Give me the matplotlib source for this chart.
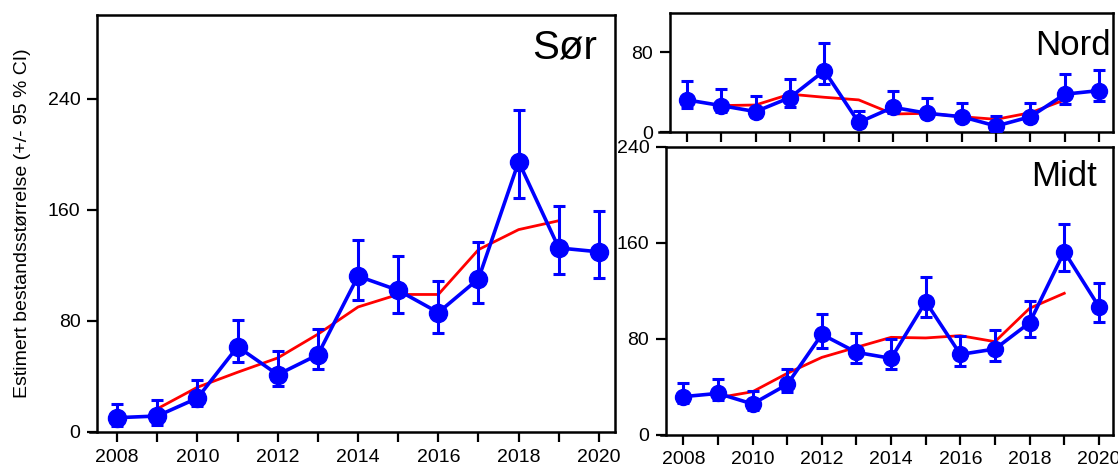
import matplotlib
matplotlib.use("Agg")
import matplotlib.pyplot as plt

plt.rcParams['font.family'] = ['Liberation Sans', 'DejaVu Sans']

years = list(range(2008, 2021))
trend_years = list(range(2009, 2020))

# Sør
sor_est = [10.3, 11.5, 24.4, 61.4, 41.3, 55.6, 112.2, 102.0, 86.0, 110.3, 194.6, 132.5, 129.7]
sor_lo = [4.0, 5.0, 18.4, 50.1, 33.0, 45.4, 95.0, 85.5, 71.6, 93.1, 168.4, 113.9, 111.0]
sor_hi = [20.3, 22.7, 37.5, 80.5, 58.0, 74.5, 138.5, 126.6, 108.7, 136.8, 232.0, 162.9, 158.8]
sor_trend = [16.7, 32.2, 43.0, 53.3, 70.4, 90.0, 99.0, 99.0, 131.3, 145.7, 152.1]

# Nord
nord_est = [32.5, 26.8, 20.8, 34.8, 61.6, 10.0, 25.1, 19.1, 15.7, 6.4, 15.7, 38.2, 41.8]
nord_lo = [24.1, 20.0, 15.7, 25.8, 48.2, 5.7, 19.1, 14.1, 11.4, 2.3, 10.7, 28.4, 31.8]
nord_hi = [50.9, 43.5, 36.5, 53.2, 89.4, 21.8, 41.5, 34.1, 29.1, 16.7, 29.1, 58.2, 62.6]
nord_trend = [26.8, 27.4, 38.2, 35.1, 32.5, 18.4, 19.1, 15.7, 13.1, 19.7, 32.5]

# Midt
midt_est = [31.7, 34.4, 25.6, 41.9, 83.6, 68.6, 63.6, 110.8, 66.9, 71.4, 93.3, 152.5, 106.7]
midt_lo = [26.1, 28.9, 20.6, 35.3, 71.9, 59.4, 54.7, 97.8, 57.5, 61.7, 81.7, 136.4, 94.2]
midt_hi = [43.3, 46.4, 36.4, 54.7, 100.6, 84.4, 79.4, 131.1, 82.2, 87.2, 111.4, 175.6, 126.1]
midt_trend = [30.8, 35.8, 51.1, 64.4, 72.8, 81.1, 80.6, 82.5, 77.5, 105.3, 117.8]

BLUE = '#0000ff'
RED = '#ff0000'


def draw_panel(ax, est, lo, hi, trend, name, ylim, yticks, ms, name_xy, name_size,
               axis_ext, show_xlabels=True):
    ax.plot(trend_years, trend, color=RED, lw=2.0, zorder=2)
    yerr = [[e - l for e, l in zip(est, lo)], [h - e for e, h in zip(est, hi)]]
    ax.errorbar(years, est, yerr=yerr, color=BLUE, lw=2.6, marker='o', ms=ms,
                elinewidth=2.2, capsize=4.5, capthick=2.2, zorder=3)
    ax.set_xlim(2007.5, 2020.4)
    ax.set_ylim(*ylim)
    ax.set_yticks(yticks)
    ax.set_xticks(years)
    if show_xlabels:
        ax.set_xticklabels([str(y) if y % 2 == 0 else '' for y in years])
    else:
        ax.set_xticklabels([])
    ax.tick_params(axis='both', direction='out', length=7, width=1.6, labelsize=14, pad=5)
    for s in ax.spines.values():
        s.set_linewidth(1.8)
    # bottom axis line sticks out a little to the left of the frame
    ax.spines['bottom'].set_bounds(2007.5 - axis_ext, 2020.4)
    ax.text(name_xy[0], name_xy[1], name, transform=ax.transAxes, ha='right', va='center',
            fontsize=name_size)


fig = plt.figure(figsize=(11.18, 4.73), dpi=100)
ax_sor = fig.add_axes([0.0868, 0.0867, 0.4633, 0.881])
ax_nord = fig.add_axes([0.599, 0.720, 0.3965, 0.252])
ax_midt = fig.add_axes([0.5957, 0.081, 0.3996, 0.609])

draw_panel(ax_sor, sor_est, sor_lo, sor_hi, sor_trend, 'Sør', (0, 300), [0, 80, 160, 240], 13,
           (0.965, 0.923), 29, 0.17)
draw_panel(ax_nord, nord_est, nord_lo, nord_hi, nord_trend, 'Nord', (0, 119), [0, 80], 11.5,
           (0.995, 0.728), 25, 0.3, show_xlabels=False)
draw_panel(ax_midt, midt_est, midt_lo, midt_hi, midt_trend, 'Midt', (0, 240), [0, 80, 160, 240], 11.5,
           (0.965, 0.896), 25, 0.15)

ax_sor.set_ylabel('Estimert bestandsstørrelse (+/- 95 % CI)', fontsize=14)
ax_sor.yaxis.set_label_coords(-0.128, 0.5)

fig.savefig('out.png', dpi=100)
